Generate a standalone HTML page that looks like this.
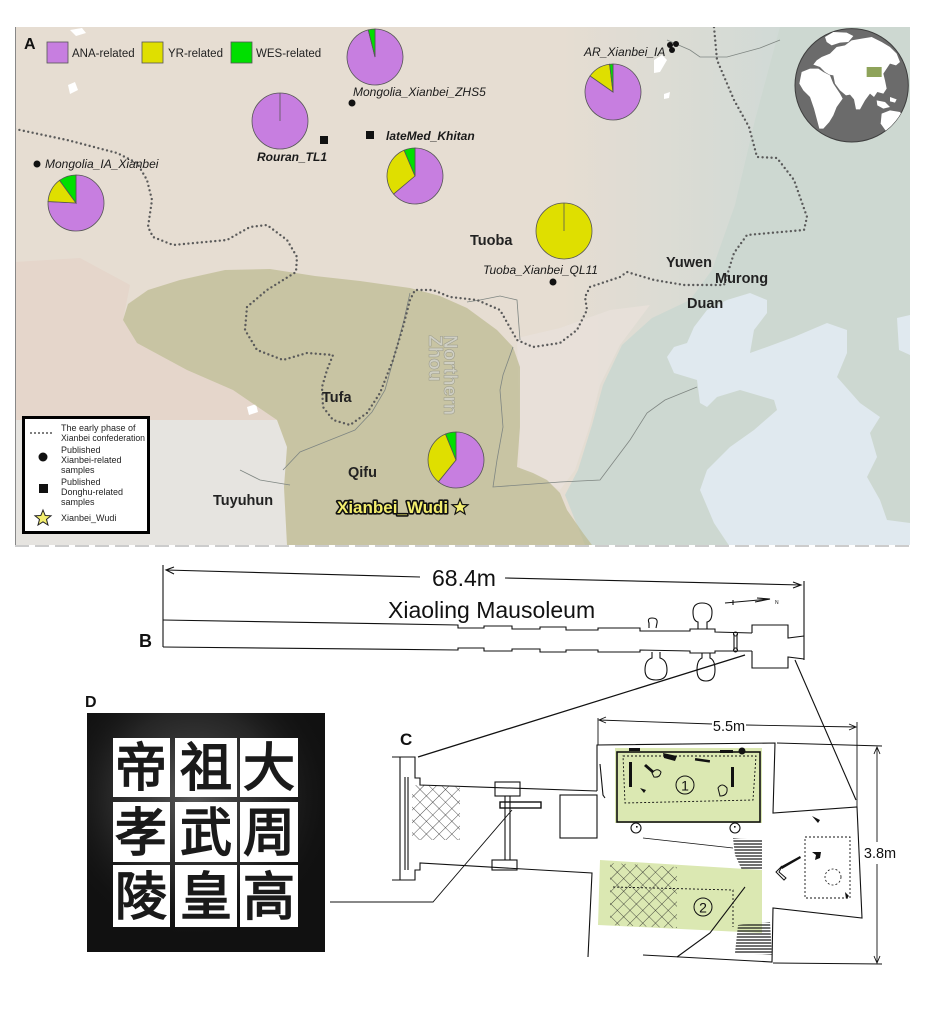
<!DOCTYPE html>
<html><head><meta charset="utf-8">
<style>
html,body{margin:0;padding:0;background:#fff;}
body{width:934px;height:1016px;overflow:hidden;}
svg{display:block;}
text{font-family:"Liberation Sans",Arial,sans-serif;}
</style></head>
<body>
<svg width="934" height="1016" viewBox="0 0 934 1016" xmlns="http://www.w3.org/2000/svg">
<defs>
  <clipPath id="mapclip"><rect x="15" y="27" width="895" height="518"/></clipPath>
  <clipPath id="globeclip"><circle cx="185" cy="190" r="170"/></clipPath>
  <linearGradient id="rightg" gradientUnits="userSpaceOnUse" x1="560" y1="0" x2="790" y2="0">
    <stop offset="0" stop-color="#d0dad6" stop-opacity="0"/>
    <stop offset="1" stop-color="#d0dad6" stop-opacity="1"/>
  </linearGradient>
  <radialGradient id="rub" cx="0.45" cy="0.35" r="0.6">
    <stop offset="0" stop-color="#6a6a6a" stop-opacity="0.8"/>
    <stop offset="0.6" stop-color="#3a3a3a" stop-opacity="0.5"/>
    <stop offset="1" stop-color="#111" stop-opacity="0"/>
  </radialGradient>
  <pattern id="hb" width="9" height="9" patternUnits="userSpaceOnUse" patternTransform="rotate(45)">
    <path d="M0,0 L0,9 M0,0 L9,0" stroke="#222" stroke-width="0.8" fill="none"/>
  </pattern>
  <pattern id="hatch" width="4" height="3" patternUnits="userSpaceOnUse">
    <path d="M0,1 L4,1" stroke="#111" stroke-width="1.2"/>
  </pattern>
</defs>

<!-- ================= PANEL A : MAP ================= -->
<g clip-path="url(#mapclip)">
  <rect x="15" y="27" width="895" height="518" fill="#e6ddd2"/>
  <rect x="15" y="27" width="895" height="518" fill="url(#rightg)"/>
  <!-- lower-left pinkish -->
  <path d="M15,262 L80,258 L130,285 L123,320 L137,343 L187,370 L233,390 L277,420 L15,425 Z" fill="#e4d5ca" opacity="0.9"/>
  <!-- lower-left light plateau -->
  <path d="M15,420 L277,420 L287,447 L284,487 L287,545 L15,545 Z" fill="#e6e4e0"/>
  <!-- taihang pinkish-white -->
  <path d="M517,338 L560,328 L610,310 L650,305 L620,345 L600,385 L590,425 L575,470 L560,490 L520,470 Z" fill="#e8e0d9" opacity="0.9"/>
  <!-- north china plain greenish -->
  <path d="M585,545 L565,495 L578,470 L592,425 L603,385 L622,345 L652,318 L690,300 L712,270 L735,205 L755,120 L780,27 L910,27 L910,545 Z" fill="#cdd8d1"/>
  <!-- sea -->
  <path d="M667,357 L674,347 L687,343 L694,327 L707,310 L727,300 L750,293 L767,300 L767,313 L754,330 L750,353 L767,347 L794,337 L827,323 L847,330 L847,353 L837,377 L860,403 L880,417 L870,433 L877,457 L867,477 L880,500 L887,520 L910,523 L910,547 L730,547 L714,523 L700,490 L707,470 L730,447 L754,430 L777,410 L774,400 L740,390 L717,397 L707,407 L700,403 L697,380 L674,373 Z" fill="#e0e9ef"/>
  <path d="M897,318 L910,315 L910,355 L899,350 Z" fill="#e0e9ef"/>
  <!-- small white lakes -->
  <path d="M654,60 L662,55 L667,60 L660,72 L654,73 Z" fill="#fff"/>
  <path d="M664,94 L670,92 L669,98 L664,99 Z" fill="#fff"/>
  <path d="M70,30 L82,28 L86,33 L76,36 Z" fill="#fff"/>
  <path d="M68,85 L75,82 L78,90 L70,94 Z" fill="#fff"/>
  <path d="M247,407 L256,404 L258,412 L249,415 Z" fill="#fff"/>
  <!-- green Xianbei region -->
  <path d="M123,320 L128,304 L148,290 L180,280 L225,270 L270,269 L315,276 L360,281 L410,288 L440,296 L467,308 L497,330 L513,347 L520,367 L520,427 L517,467 L533,473 L547,480 L560,493 L567,510 L583,533 L592,545 L287,545 L284,487 L287,447 L277,420 L233,390 L187,370 L137,343 Z" fill="#bdba90" opacity="0.72"/>
  <!-- rivers / borders -->
  <g fill="none" stroke="#7f8682" stroke-width="0.8">
    <path d="M410,293 L404,320 L396,350 L385,390 L372,412 L355,430 L330,440 L300,452 L283,470"/>
    <path d="M513,347 L503,375 L500,390 L503,427 L497,460 L493,487 L520,485 L560,482 L600,480 L630,440 L647,413 L665,400 L697,387"/>
    <path d="M467,302 L480,300 L500,296 L517,300 L520,340"/>
    <path d="M667,40 L690,50 L700,57 L727,57 L760,48 L780,40"/>
    <path d="M240,470 L260,480 L290,485"/>
  </g>
  <!-- dotted boundary -->
  <path d="M15,129 L67,140 L117,153 L137,163 L147,180 L152,200 L148,227 L153,237 L173,245 L227,240 L250,227 L267,225 L287,240 L297,257 L296,272 L267,290 L247,307 L245,330 L257,350 L283,360 L307,353 L333,355 L327,370 L322,387 L323,407 L333,420 L350,425 L367,413 L380,393 L393,360 L403,327 L410,300 L415,290 L433,290 L450,297 L477,300 L500,310 L517,340 L533,347 L560,343 L577,330 L587,310 L585,297 L590,287 L620,277 L627,272 L654,280 L684,285 L724,285 L734,253 L747,235 L804,230 L807,217 L794,180 L777,158 L757,157 L749,127 L734,100 L717,60 L714,27" fill="none" stroke="#5a5a5a" stroke-width="2.4" stroke-linecap="round" stroke-dasharray="0 4.5"/>
  <!-- left border line -->
  <line x1="15.5" y1="27" x2="15.5" y2="545" stroke="#888" stroke-width="1"/>
</g>

<!-- Northern Zhou -->
<g font-weight="bold" font-size="19" fill="#cfcfc4" stroke="#9a9a8a" stroke-width="0.5">
  <text transform="translate(444,335) rotate(90)">Northern</text>
  <text transform="translate(429,335) rotate(90)">Zhou</text>
</g>

<!-- legend top -->
<text x="24" y="49" font-size="16" font-weight="bold" fill="#111">A</text>
<rect x="47" y="42" width="21" height="21" fill="#c77ee0" stroke="#555" stroke-width="0.8"/>
<text x="72" y="57" font-size="11.5" fill="#222">ANA-related</text>
<rect x="142" y="42" width="21" height="21" fill="#dfdf00" stroke="#555" stroke-width="0.8"/>
<text x="168" y="57" font-size="11.5" fill="#222">YR-related</text>
<rect x="231" y="42" width="21" height="21" fill="#00df00" stroke="#555" stroke-width="0.8"/>
<text x="256" y="57" font-size="11.5" fill="#222">WES-related</text>

<!-- pies -->
<g stroke="#555" stroke-width="0.8">
  <path d="M76,203 L76,175 A28,28 0 1 1 48.04,201.54 Z" fill="#c77ee0"/>
  <path d="M76,203 L48.04,201.54 A28,28 0 0 1 59.54,180.35 Z" fill="#dfdf00"/>
  <path d="M76,203 L59.54,180.35 A28,28 0 0 1 76,175 Z" fill="#00df00"/>
  <path d="M375,57 L375,29 A28,28 0 1 1 368.23,29.83 Z" fill="#c77ee0"/>
  <path d="M375,57 L368.23,29.83 A28,28 0 0 1 375,29 Z" fill="#00df00"/>
  <circle cx="280" cy="121" r="28" fill="#c77ee0"/>
  <line x1="280" y1="121" x2="280" y2="93"/>
  <path d="M415,176 L415,148 A28,28 0 1 1 393.55,194 Z" fill="#c77ee0"/>
  <path d="M415,176 L393.55,194 A28,28 0 0 1 404.06,150.23 Z" fill="#dfdf00"/>
  <path d="M415,176 L404.06,150.23 A28,28 0 0 1 415,148 Z" fill="#00df00"/>
  <path d="M613,92 L613,64 A28,28 0 1 1 590.06,75.94 Z" fill="#c77ee0"/>
  <path d="M613,92 L590.06,75.94 A28,28 0 0 1 609.59,64.21 Z" fill="#dfdf00"/>
  <path d="M613,92 L609.59,64.21 A28,28 0 0 1 613,64 Z" fill="#00df00"/>
  <circle cx="564" cy="231" r="28" fill="#dfdf00"/>
  <line x1="564" y1="231" x2="564" y2="203"/>
  <path d="M456,460 L456,432 A28,28 0 1 1 438.38,481.76 Z" fill="#c77ee0"/>
  <path d="M456,460 L438.38,481.76 A28,28 0 0 1 445.51,434.04 Z" fill="#dfdf00"/>
  <path d="M456,460 L445.51,434.04 A28,28 0 0 1 456,432 Z" fill="#00df00"/>
</g>

<!-- sample markers & labels -->
<g fill="#111">
  <circle cx="352" cy="103" r="3.5"/>
  <circle cx="37" cy="164" r="3.5"/>
  <circle cx="553" cy="282" r="3.5"/>
  <circle cx="670" cy="45" r="3"/>
  <circle cx="676" cy="44" r="3"/>
  <circle cx="672" cy="50" r="3"/>
  <rect x="366" y="131" width="8" height="8"/>
  <rect x="320" y="136" width="8" height="8"/>
</g>
<g font-size="12" font-style="italic" fill="#1a1a1a">
  <text x="353" y="96">Mongolia_Xianbei_ZHS5</text>
  <text x="45" y="168">Mongolia_IA_Xianbei</text>
  <text x="584" y="56">AR_Xianbei_IA</text>
  <text x="483" y="274">Tuoba_Xianbei_QL11</text>
  <text x="386" y="140" font-weight="bold">lateMed_Khitan</text>
  <text x="257" y="161" font-weight="bold">Rouran_TL1</text>
</g>
<g font-size="14.5" font-weight="bold" fill="#222">
  <text x="470" y="245">Tuoba</text>
  <text x="666" y="267">Yuwen</text>
  <text x="715" y="283">Murong</text>
  <text x="687" y="308">Duan</text>
  <text x="322" y="402">Tufa</text>
  <text x="348" y="477">Qifu</text>
  <text x="213" y="505">Tuyuhun</text>
</g>
<text x="337" y="513" font-size="17" font-weight="bold" fill="#f3ee6e" stroke="#111" stroke-width="3.2" paint-order="stroke" stroke-linejoin="round">Xianbei_Wudi</text>
<path d="M460,499 L462.2,504.5 L468,504.8 L463.5,508.4 L465,514 L460,510.8 L455,514 L456.5,508.4 L452,504.8 L457.8,504.5 Z" fill="#f3ee6e" stroke="#111" stroke-width="1.2"/>

<!-- legend box -->
<rect x="23.5" y="417.5" width="125" height="115" fill="#fff" stroke="#000" stroke-width="3"/>
<line x1="31" y1="433" x2="53" y2="433" stroke="#555" stroke-width="2" stroke-linecap="round" stroke-dasharray="0 4"/>
<g font-size="9" fill="#222">
  <text x="61" y="431">The early phase of</text>
  <text x="61" y="441" textLength="84" lengthAdjust="spacingAndGlyphs">Xianbei confederation</text>
  <text x="61" y="453">Published</text>
  <text x="61" y="463">Xianbei-related</text>
  <text x="61" y="473">samples</text>
  <text x="61" y="485">Published</text>
  <text x="61" y="495">Donghu-related</text>
  <text x="61" y="505">samples</text>
  <text x="61" y="521">Xianbei_Wudi</text>
</g>
<circle cx="43" cy="457" r="4.5" fill="#111"/>
<rect x="39" y="484" width="9" height="9" fill="#111"/>
<path d="M43,510 L45.2,515.5 L51,515.8 L46.5,519.4 L48,525 L43,521.8 L38,525 L39.5,519.4 L35,515.8 L40.8,515.5 Z" fill="#f3ee6e" stroke="#222" stroke-width="1"/>

<!-- globe -->
<g transform="translate(790,22) scale(0.3333)">
  <circle cx="185" cy="190" r="170" fill="#6b6b6b" stroke="#3e3e3e" stroke-width="3"/>
  <g clip-path="url(#globeclip)" fill="#fff">
    <path d="M95,105 L120,95 L140,75 L165,70 L185,55 L215,50 L245,45 L275,60 L300,75 L320,95 L330,120 L318,130 L300,125 L290,140 L280,155 L285,175 L290,200 L280,215 L262,210 L252,225 L240,215 L225,235 L210,262 L198,262 L192,232 L180,218 L168,220 L150,205 L135,185 L130,160 L118,158 L105,150 L90,135 L70,128 L80,115 Z"/>
    <path d="M35,150 L60,140 L85,140 L100,150 L120,160 L130,185 L150,215 L158,230 L140,255 L130,280 L118,300 L100,320 L88,320 L80,290 L72,260 L60,225 L40,205 L28,185 Z"/>
    <path d="M275,275 L300,265 L330,270 L345,290 L340,320 L315,335 L290,330 L272,305 Z"/>
    <path d="M105,45 L130,30 L170,32 L190,42 L175,60 L150,62 L125,70 L110,60 Z"/>
    <path d="M260,235 L285,240 L300,255 L280,260 L262,250 Z"/>
    <path d="M300,225 L320,232 L315,242 L300,238 Z"/>
  </g>
  <rect x="230" y="135" width="45" height="30" fill="#8ea35a"/>
</g>

<!-- map bottom dashed edge -->
<line x1="15" y1="546" x2="910" y2="546" stroke="#999" stroke-width="1" stroke-dasharray="14 6"/>

<!-- ================= PANEL B ================= -->
<g stroke="#111" fill="none" stroke-width="1.1">
  <line x1="163" y1="565" x2="163" y2="647"/>
  <line x1="166" y1="570" x2="420" y2="577"/>
  <line x1="505" y1="578" x2="801" y2="585"/>
  <path d="M174,567 L166,570 L174,574"/>
  <path d="M793,582 L801,585 L793,588"/>
  <line x1="804" y1="581" x2="804" y2="660"/>
  <polyline points="163,620 458,625 458,628 484,628 484,626 512,626 512,629 540,629 540,627 566,627 566,630 598,630 598,628 640,628 640,631 690,631 690,629 715,629 715,632 752,633"/>
  <polyline points="163,647 458,650 458,648 484,648 484,651 512,651 512,649 540,649 540,652 566,652 566,650 598,650 598,652 640,652 640,650 690,651 690,653 715,653 715,651 752,651"/>
  <path d="M752,633 L752,625 L788,625 L788,638 L804,636"/>
  <path d="M752,651 L752,668 L788,668 L788,657 L804,659"/>
  <path d="M698,629 L698,622 Q693,621 693,612 Q693,603 702,603 Q712,603 712,612 Q712,621 707,622 L707,629"/>
  <path d="M649,628 L649,623 Q647,618 652,618 Q658,618 657,623 L656,628"/>
  <path d="M652,652 L652,658 Q645,660 645,670 Q645,680 656,680 Q667,680 667,670 Q667,660 660,658 L660,652"/>
  <path d="M702,653 L702,658 Q697,660 697,670 Q697,681 706,681 Q715,681 715,670 Q715,660 710,658 L710,653"/>
  <line x1="734" y1="634" x2="734" y2="650"/>
  <line x1="737" y1="634" x2="737" y2="650"/>
  <circle cx="735.5" cy="634" r="2"/>
  <circle cx="735.5" cy="650" r="2"/>
  <line x1="725" y1="603" x2="770" y2="599"/>
  <line x1="733" y1="600" x2="733" y2="605"/>
  <path d="M755,602 L770,599 L757,598"/>
  <line x1="745" y1="655" x2="418" y2="757" stroke-width="1.3"/>
  <line x1="795" y1="660" x2="856" y2="800"/>
</g>
<text x="775" y="604" font-size="5" fill="#111">N</text>
<text x="432" y="586" font-size="23" fill="#111">68.4m</text>
<text x="388" y="618" font-size="23" fill="#111">Xiaoling Mausoleum</text>
<text x="139" y="647" font-size="18" font-weight="bold" fill="#111">B</text>

<!-- ================= PANEL D ================= -->
<text x="85" y="707" font-size="16" font-weight="bold" fill="#111">D</text>
<rect x="87" y="713" width="238" height="239" fill="#111"/>
<rect x="87" y="713" width="238" height="239" fill="url(#rub)"/>
<g fill="#fff">
  <rect x="113" y="738" width="57" height="59"/>
  <rect x="175" y="738" width="62" height="59"/>
  <rect x="240" y="738" width="58" height="59"/>
  <rect x="113" y="802" width="57" height="60"/>
  <rect x="175" y="802" width="62" height="60"/>
  <rect x="240" y="802" width="58" height="60"/>
  <rect x="113" y="865" width="57" height="62"/>
  <rect x="175" y="865" width="62" height="62"/>
  <rect x="240" y="865" width="58" height="62"/>
</g>
<g font-family="'Liberation Sans','Noto Sans CJK SC',sans-serif" font-weight="900" font-size="52" fill="#1a1a1a" text-anchor="middle">
  <text x="141" y="786">帝</text>
  <text x="206" y="786">祖</text>
  <text x="269" y="786">大</text>
  <text x="141" y="851">孝</text>
  <text x="206" y="851">武</text>
  <text x="269" y="851">周</text>
  <text x="141" y="915">陵</text>
  <text x="206" y="915">皇</text>
  <text x="269" y="915">高</text>
</g>

<!-- ================= PANEL C ================= -->
<text x="400" y="745" font-size="17" font-weight="bold" fill="#111">C</text>
<rect x="615" y="748" width="147" height="75" fill="#dbe8b2"/>
<path d="M600,860 L762,870 L762,933 L598,925 Z" fill="#dbe8b2"/>
<path d="M610,863 L677,867 L677,928 L610,925 Z" fill="url(#hb)"/>
<path d="M412,785 L460,787 L460,840 L412,840 Z" fill="url(#hb)"/>
<path d="M733,838 L762,840 L762,870 L742,870 L735,855 Z" fill="url(#hatch)"/>
<path d="M738,925 L770,922 L772,955 L735,953 Z" fill="url(#hatch)"/>
<g stroke="#111" fill="none" stroke-width="1.1">
  <path d="M392,757 L415,757 L415,778 L420,778 L420,785 L597,791"/>
  <line x1="400" y1="757" x2="400" y2="880"/>
  <line x1="405" y1="777" x2="405" y2="870"/>
  <line x1="408" y1="777" x2="408" y2="870"/>
  <path d="M392,880 L415,880 L415,870 L420,870 L420,863 L592,873 L588,957"/>
  <path d="M597,791 L597,745 L775,743 L773,813 L857,807 L862,918 L773,908 L772,962 L643,955"/>
  <path d="M600,764 L603,795 L605,798"/>
  <rect x="560" y="795" width="37" height="43"/>
  <rect x="617" y="752" width="143" height="70" stroke-width="1.6"/>
  <path d="M623,756 L756,756 L753,800 L625,803 Z" stroke-dasharray="2 2" stroke-width="0.9"/>
  <path d="M613,887 L733,890 L733,927" stroke-dasharray="2 2" stroke-width="0.9"/>
  <rect x="805" y="837" width="45" height="61" stroke-dasharray="2 2" stroke-width="0.9"/>
  <circle cx="833" cy="877" r="8" stroke-dasharray="2 2" stroke-width="0.8"/>
  <path d="M745,887 L710,933 L677,957"/>
  <line x1="643" y1="838" x2="733" y2="848" stroke-width="0.8"/>
  <rect x="495" y="782" width="25" height="14"/>
  <rect x="500" y="802" width="41" height="6" stroke-width="1.4"/>
  <line x1="505" y1="796" x2="505" y2="860"/>
  <line x1="510" y1="796" x2="510" y2="860"/>
  <rect x="492" y="860" width="25" height="10"/>
  <path d="M330,902 L433,902 L512,810" stroke-width="0.9"/>
  <circle cx="636" cy="828" r="5"/>
  <circle cx="735" cy="828" r="5"/>
  <line x1="598" y1="718" x2="598" y2="745" stroke-width="0.9"/>
  <line x1="599" y1="720" x2="712" y2="724" stroke-width="0.9"/>
  <line x1="746" y1="725" x2="856" y2="727" stroke-width="0.9"/>
  <path d="M606,717 L599,720 L606,723" stroke-width="0.9"/>
  <path d="M849,724 L856,727 L849,730" stroke-width="0.9"/>
  <line x1="857" y1="722" x2="857" y2="807" stroke-width="0.9"/>
  <line x1="777" y1="743" x2="882" y2="746" stroke-width="0.9"/>
  <line x1="773" y1="963" x2="882" y2="964" stroke-width="0.9"/>
  <line x1="877" y1="747" x2="877" y2="842" stroke-width="0.9"/>
  <line x1="877" y1="864" x2="877" y2="963" stroke-width="0.9"/>
  <path d="M874,754 L877,747 L880,754" stroke-width="0.9"/>
  <path d="M874,956 L877,963 L880,956" stroke-width="0.9"/>
</g>
<g fill="#111">
  <rect x="629" y="748" width="11" height="3"/>
  <path d="M663,753 L677,756 L675,761 L664,758 Z"/>
  <rect x="695" y="759" width="15" height="2.5" transform="rotate(8 702 760)"/>
  <rect x="720" y="750" width="13" height="3"/>
  <circle cx="742" cy="751" r="3.5"/>
  <rect x="629" y="762" width="3" height="25"/>
  <rect x="731" y="767" width="3" height="20"/>
  <path d="M646,764 L654,771 L652,773 L644,766 Z"/>
  <path d="M718,788 Q722,782 727,788 Q728,796 720,796 Z" fill="none" stroke="#111"/>
  <path d="M652,773 Q657,767 661,772 Q660,778 654,777 Z" fill="none" stroke="#111"/>
  <path d="M640,788 L646,790 L644,793 Z"/>
  <rect x="636" y="826" width="1.6" height="1.6"/>
  <rect x="734" y="826" width="1.6" height="1.6"/>
  <path d="M812,816 L820,820 L818,823 Z"/>
  <path d="M812,852 L816,855 L815,860 L820,858 L821,852 Z"/>
  <path d="M780,867 L800,856 L801,858 L782,869 Z"/>
  <path d="M782,866 L776,872 L784,880 L786,878 L779,872 Z" fill="none" stroke="#111" stroke-width="1"/>
  <path d="M845,892 L849,896 L846,899 Z"/>
</g>
<circle cx="685" cy="785" r="9" fill="#dbe8b2" stroke="#111" stroke-width="1"/>
<circle cx="703" cy="907" r="9" fill="#dbe8b2" stroke="#111" stroke-width="1"/>
<text x="685" y="790.5" font-size="14" fill="#111" text-anchor="middle">1</text>
<text x="703" y="912.5" font-size="14" fill="#111" text-anchor="middle">2</text>
<text x="729" y="731" font-size="14.5" fill="#111" text-anchor="middle">5.5m</text>
<text x="880" y="858" font-size="14.5" fill="#111" text-anchor="middle">3.8m</text>
</svg>
</body></html>
